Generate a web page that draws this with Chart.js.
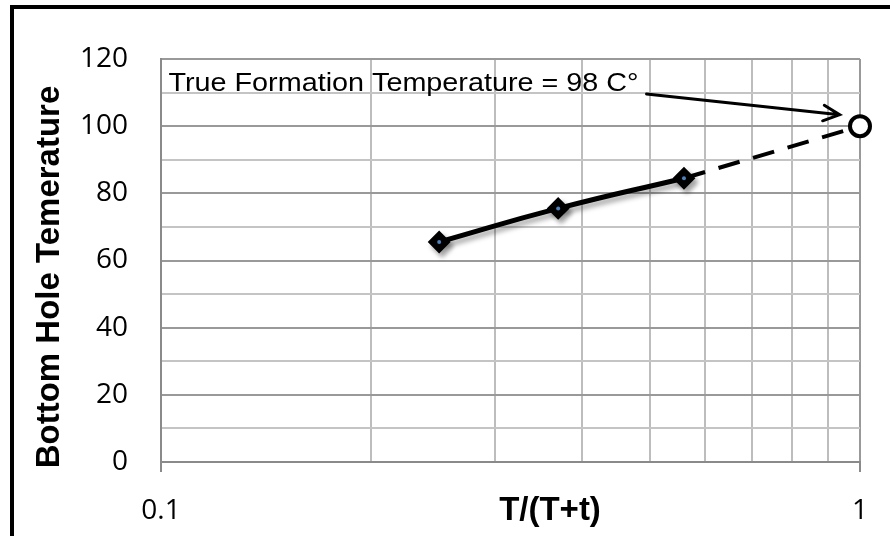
<!DOCTYPE html>
<html>
<head>
<meta charset="utf-8">
<script src="https://cdn.jsdelivr.net/npm/chart.js@4"></script>
<style>
  html, body { margin: 0; padding: 0; background: #fff; }
  #wrap { position: relative; width: 890px; height: 536px; overflow: hidden; }
  #frame { position: absolute; left: 10px; top: 5px; width: 890px; height: 527px;
           border-top: 4px solid #000; border-left: 4px solid #000; border-bottom: 2px solid #8a8a8a; }
  canvas { position: absolute; left: 0; top: 0; }
</style>
</head>
<body>
<div id="wrap">
  <div id="frame"></div>
  <canvas id="chart" width="890" height="536"></canvas>
</div>
<script>
// measured points
const ratio = [0.25, 0.37, 0.56];
const temps = [65.5, 75.5, 84.5];
// extrapolation to T/(T+t) = 1
const extRatio = [0.56, 1];
const extTemps = [84.5, 100];

const xGrid = [0.1, 0.2, 0.3, 0.4, 0.5, 0.6, 0.7, 0.8, 0.9, 1];
const xTickLabels = [0.1, 1];
const yTickLabels = [0, 20, 40, 60, 80, 100, 120];

const noteText = "True Formation Temperature = 98 C°";
const notePos = [0.1025, 112.6];
const arrowFrom = [0.495, 109.6];
const arrowTo = [0.935, 103.4];

const toXY = (xs, ys) => xs.map((x, i) => ({x: x, y: ys[i]}));

const shadow = {
  id: "shadow",
  beforeDatasetDraw(chart, args) {
    if (args.index !== 1) return;
    const ctx = chart.ctx;
    ctx.save();
    ctx.shadowColor = "rgba(0,0,0,0.35)";
    ctx.shadowOffsetX = 3;
    ctx.shadowOffsetY = 4;
    ctx.shadowBlur = 5;
  },
  afterDatasetDraw(chart, args) {
    if (args.index !== 1) return;
    chart.ctx.restore();
  }
};

const extras = {
  id: "extras",
  afterDraw(chart) {
    const ctx = chart.ctx;
    const xs = chart.scales.x, ys = chart.scales.y;

    // axis titles
    ctx.save();
    ctx.fillStyle = "#000";
    ctx.font = "bold 33px 'Liberation Sans', Arial, sans-serif";
    ctx.textAlign = "center";
    ctx.textBaseline = "middle";
    ctx.fillText("T/(T+t)", 550, 511);
    ctx.translate(50, 277);
    ctx.rotate(-Math.PI / 2);
    ctx.fillText("Bottom Hole Temerature", 0, 0);
    ctx.restore();

    // annotation text
    ctx.save();
    ctx.fillStyle = "#000";
    ctx.font = "25px 'Liberation Sans', Arial, sans-serif";
    ctx.textBaseline = "middle";
    const tx = xs.getPixelForValue(notePos[0]);
    const ty = ys.getPixelForValue(notePos[1]);
    const w = ctx.measureText(noteText).width;
    ctx.translate(tx, ty);
    ctx.scale(470 / w, 1);
    ctx.fillText(noteText, 0, 0);
    ctx.restore();

    // arrow
    const x1 = xs.getPixelForValue(arrowFrom[0]), y1 = ys.getPixelForValue(arrowFrom[1]);
    const x2 = xs.getPixelForValue(arrowTo[0]), y2 = ys.getPixelForValue(arrowTo[1]);
    const ang = Math.atan2(y2 - y1, x2 - x1);
    ctx.save();
    ctx.strokeStyle = "#000";
    ctx.lineWidth = 3;
    ctx.lineCap = "round";
    ctx.beginPath();
    ctx.moveTo(x1, y1);
    ctx.lineTo(x2, y2);
    ctx.moveTo(x2 - 18 * Math.cos(ang - 0.45), y2 - 18 * Math.sin(ang - 0.45));
    ctx.lineTo(x2, y2);
    ctx.lineTo(x2 - 18 * Math.cos(ang + 0.45), y2 - 18 * Math.sin(ang + 0.45));
    ctx.stroke();
    ctx.restore();
  }
};

new Chart(document.getElementById("chart"), {
  type: "line",
  data: {
    datasets: [
      {
        data: toXY(ratio, temps),
        showLine: false,
        pointStyle: "circle",
        pointRadius: 2,
        pointBorderWidth: 0,
        pointBackgroundColor: "#4f81bd"
      },
      {
        data: toXY(ratio, temps),
        borderColor: "#000",
        borderWidth: 5,
        tension: 0.5,
        pointStyle: "rectRot",
        pointRadius: 10,
        pointBorderWidth: 2,
        pointBackgroundColor: "#000",
        pointBorderColor: "#000"
      },
      {
        data: toXY(extRatio, extTemps),
        clip: false,
        borderColor: "#000",
        borderWidth: 4,
        borderDash: [22, 14],
        pointRadius: [0, 10],
        pointBorderWidth: 4,
        pointBorderColor: "#000",
        pointBackgroundColor: "#fff"
      }
    ]
  },
  options: {
    responsive: false,
    animation: false,
    events: [],
    layout: { padding: { left: 0, top: 59, right: 28, bottom: 0 } },
    plugins: { legend: { display: false }, tooltip: { enabled: false } },
    scales: {
      x: {
        type: "logarithmic",
        min: 0.1,
        max: 1,
        afterBuildTicks: s => { s.ticks = xGrid.map(v => ({value: v})); },
        afterFit: s => { s.height = 74; },
        border: { color: "#8a8a8a", width: 2 },
        grid: {
          color: c => (c.tick && c.tick.value === 1 ? "#999" : "#bdbdbd"),
          lineWidth: 2,
          tickLength: 10,
          tickColor: c => (c.tick && xTickLabels.includes(c.tick.value) ? "#8a8a8a" : "rgba(0,0,0,0)"),
          tickWidth: 2
        },
        ticks: {
          autoSkip: false,
          maxRotation: 0,
          padding: 22,
          color: "#000",
          font: { family: "'Open Sans', sans-serif", size: 28 },
          callback: v => (xTickLabels.includes(v) ? String(v) : "")
        }
      },
      y: {
        min: 0,
        max: 120,
        afterFit: s => { s.width = 161; },
        border: { color: "#8a8a8a", width: 2 },
        grid: {
          color: c => (c.tick && c.tick.value % 20 === 0 ? "#999" : "#c4c4c4"),
          lineWidth: 2,
          drawTicks: false
        },
        ticks: {
          stepSize: 10,
          autoSkip: false,
          padding: 33,
          color: "#000",
          font: { family: "'Open Sans', sans-serif", size: 28 },
          callback: v => (yTickLabels.includes(v) ? String(v) : "")
        }
      }
    }
  },
  plugins: [shadow, extras]
});
</script>
</body>
</html>
